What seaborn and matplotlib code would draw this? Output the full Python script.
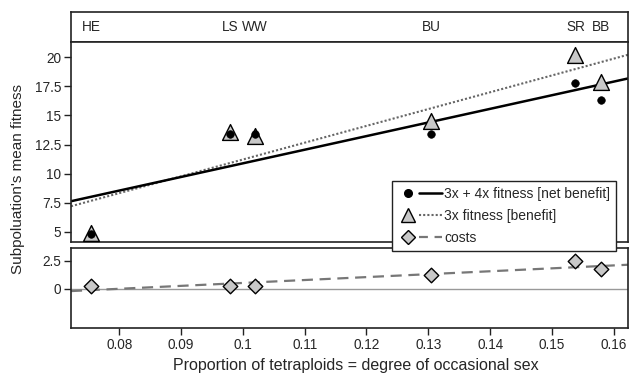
import pandas as pd
import seaborn as sns
import matplotlib.pyplot as plt
from matplotlib.lines import Line2D
from matplotlib.legend_handler import HandlerTuple
from matplotlib.ticker import FuncFormatter

# Values
populations = ["HE", "LS", "WW", "BU", "SR", "BB"]
tetraploid_prop = [0.0755, 0.098, 0.102, 0.1305, 0.1538, 0.158]
net_benefit = [4.8, 13.4, 13.4, 13.4, 17.8, 16.3]
benefit_3x = [4.9, 13.6, 13.2, 14.5, 20.2, 17.9]
costs = [0.27, 0.27, 0.27, 1.2, 2.5, 1.76]

x_ticks = [0.08, 0.09, 0.1, 0.11, 0.12, 0.13, 0.14, 0.15, 0.16]
top_yticks = [5, 7.5, 10, 12.5, 15, 17.5, 20]
bot_yticks = [0, 2.5]

df = pd.DataFrame({"prop": tetraploid_prop, "net": net_benefit,
                   "benefit": benefit_3x, "costs": costs, "pop": populations})

sns.set_theme(style="ticks")
plt.rcParams["font.family"] = ["Liberation Sans", "DejaVu Sans"]
plt.rcParams["axes.edgecolor"] = "#222222"
plt.rcParams["axes.linewidth"] = 1.2

GREY = "#c8c8c8"
fig = plt.figure(figsize=(6.32, 3.77), dpi=100)
left, width = 0.1123, 0.8814
ax_lab = fig.add_axes([left, 0.8886, width, 0.0796])
ax_top = fig.add_axes([left, 0.3581, width, 0.5305])
ax_bot = fig.add_axes([left, 0.1300, width, 0.2122])

xlim = (0.0722, 0.1623)
for ax in (ax_lab, ax_top, ax_bot):
    ax.set_xlim(xlim)
ax_top.set_ylim(4.14, 21.3)
ax_bot.set_ylim(-3.5, 3.66)

# upper panel: fitness
sns.regplot(data=df, x="prop", y="benefit", ax=ax_top, ci=None, truncate=False,
            scatter=False, line_kws=dict(color="#666666", lw=1.5, ls=(0, (1, 1))))
sns.regplot(data=df, x="prop", y="net", ax=ax_top, ci=None, truncate=False,
            scatter=False, line_kws=dict(color="black", lw=1.8))
sns.scatterplot(data=df, x="prop", y="benefit", ax=ax_top, marker="^", s=130,
                color=GREY, edgecolor="black", linewidth=1.0, zorder=3)
sns.scatterplot(data=df, x="prop", y="net", ax=ax_top, marker="o", s=30,
                color="black", edgecolor="black", zorder=4)

# lower panel: costs
ax_bot.axhline(0, color="#999999", lw=1.0, zorder=1)
sns.regplot(data=df, x="prop", y="costs", ax=ax_bot, ci=None,
            truncate=False, scatter=False,
            line_kws=dict(color="#777777", lw=1.6, ls=(0, (5, 3))))
sns.scatterplot(data=df, x="prop", y="costs", ax=ax_bot, marker="D", s=55,
                color=GREY, edgecolor="black", linewidth=1.0, zorder=3)

for ax in (ax_lab, ax_top, ax_bot):
    ax.set_xlim(xlim)
    ax.set_xlabel("")
    ax.set_ylabel("")

fmt = FuncFormatter(lambda v, p: f"{v:g}")
ax_top.set_yticks(top_yticks)
ax_top.yaxis.set_major_formatter(fmt)
ax_top.set_xticks([])
ax_bot.set_yticks(bot_yticks)
ax_bot.yaxis.set_major_formatter(fmt)
ax_bot.set_xticks(x_ticks)
ax_bot.xaxis.set_major_formatter(fmt)
for ax in (ax_top, ax_bot):
    ax.tick_params(labelsize=9.8, length=5, width=1, color="#222222", pad=2)

# population labels strip
ax_lab.set_xticks([])
ax_lab.set_yticks([])
ax_lab.set_ylim(0, 1)
for x, name in zip(tetraploid_prop, populations):
    ax_lab.text(x, 0.5, name, ha="center", va="center", fontsize=9.8)

fig.text(0.029, 0.525, "Subpoluation's mean fitness", rotation=90,
         ha="center", va="center", fontsize=11)
fig.text(0.563, 0.03, "Proportion of tetraploids = degree of occasional sex",
         ha="center", va="center", fontsize=11.5)

h_net = (Line2D([], [], marker="o", color="black", ls="none", ms=5.5),
         Line2D([], [], color="black", lw=1.8))
h_ben = (Line2D([], [], marker="^", color=GREY, mec="black", ls="none", ms=10.5),
         Line2D([], [], color="#666666", lw=1.5, ls=(0, (1, 1))))
h_cost = (Line2D([], [], marker="D", color=GREY, mec="black", ls="none", ms=7),
          Line2D([], [], color="#777777", lw=1.6, ls=(0, (4, 3))))
leg = fig.legend([h_net, h_ben, h_cost],
                 ["3x + 4x fitness [net benefit]", "3x fitness [benefit]", "costs"],
                 handler_map={tuple: HandlerTuple(ndivide=None, pad=0)},
                 loc="upper right", bbox_to_anchor=(616 / 632, 1 - 181 / 377),
                 borderaxespad=0, fontsize=10, handlelength=3.2,
                 handletextpad=0.2, labelspacing=0.6, borderpad=0.4,
                 fancybox=False, framealpha=1, edgecolor="#222222")
leg.get_frame().set_linewidth(1.0)

fig.savefig("out.png", dpi=100)
